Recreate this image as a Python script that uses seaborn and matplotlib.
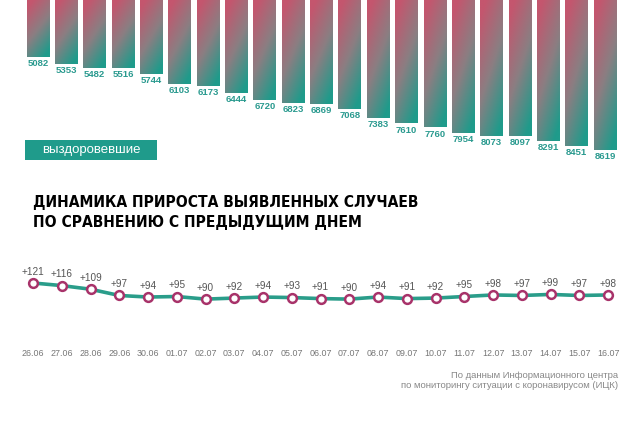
import numpy as np
import pandas as pd
import matplotlib
matplotlib.use("Agg")
import matplotlib.pyplot as plt
import seaborn as sns
from matplotlib.colors import LinearSegmentedColormap
from matplotlib.patches import Rectangle

# Data
dates = ["26.06", "27.06", "28.06", "29.06", "30.06", "01.07", "02.07",
         "03.07", "04.07", "05.07", "06.07", "07.07", "08.07", "09.07",
         "10.07", "11.07", "12.07", "13.07", "14.07", "15.07", "16.07"]
recovered = [5082, 5353, 5482, 5516, 5744, 6103, 6173, 6444, 6720, 6823, 6869,
             7068, 7383, 7610, 7760, 7954, 8073, 8097, 8291, 8451, 8619]
increase = [121, 116, 109, 97, 94, 95, 90, 92, 94, 93, 91,
            90, 94, 91, 92, 95, 98, 97, 99, 97, 98]

TEAL = "#1f9b8b"
PINK = "#c4566e"

sns.set_theme(style="white")
plt.rcParams["font.family"] = ["Liberation Sans", "DejaVu Sans"]

fig = plt.figure(figsize=(6.4, 4.25), dpi=100)

# Bars hanging from the top (the top part is cropped)
ax_bar = fig.add_axes([0, 0.6, 1, 0.4])
df_bar = pd.DataFrame({"date": dates, "recovered": recovered})
sns.barplot(data=df_bar, x="date", y="recovered", ax=ax_bar, width=0.81,
            color="#888888")

top_val = 2915
cmap = LinearSegmentedColormap.from_list("grad", [PINK, "#8b7e82", TEAL])
tv = np.linspace(0, 1, 200)[:, None]
th = np.linspace(0, 1, 30)[None, :]
grad = np.clip(0.8 * tv + 0.4 * th - 0.1, 0, 1)

for p in list(ax_bar.patches):
    x0, w, v = p.get_x(), p.get_width(), p.get_height()
    im = ax_bar.imshow(grad, cmap=cmap, vmin=0, vmax=1, aspect="auto",
                       extent=(x0, x0 + w, v, top_val), origin="upper", zorder=2)
    im.set_clip_path(p)
    p.set_facecolor("none")
    p.set_edgecolor("none")
    ax_bar.annotate(f"{int(v)}", (x0 + w / 2, v), xytext=(0, -1.5),
                    textcoords="offset points", ha="center", va="top",
                    fontsize=6.8, fontweight="bold", color="#2a9a8f")

ax_bar.set_xlim(-1.34, 21.23)
ax_bar.set_ylim(9379, top_val)
ax_bar.axis("off")

# Legend-like box
fig.add_artist(Rectangle((25 / 640, 1 - 160 / 425), 132 / 640, 20 / 425,
                         transform=fig.transFigure, color=TEAL, lw=0))
fig.text(91 / 640, 1 - 150 / 425, "выздоровевшие", ha="center", va="center",
         color="white", fontsize=9.5)

# Title
title_font = dict(family=["DejaVu Sans"], fontstretch="condensed",
                  fontweight="bold", fontsize=11.2, color="black")
fig.text(33 / 640, 1 - 203 / 425, "ДИНАМИКА ПРИРОСТА ВЫЯВЛЕННЫХ СЛУЧАЕВ",
         va="center", ha="left", **title_font)
fig.text(33 / 640, 1 - 222 / 425, "ПО СРАВНЕНИЮ С ПРЕДЫДУЩИМ ДНЕМ",
         va="center", ha="left", **title_font)

# Line chart
ax_line = fig.add_axes([0, 1 - 345 / 425, 1, 90 / 425])
idx = np.arange(len(dates))
sns.lineplot(x=idx, y=increase, ax=ax_line, color="#2a9d8a", lw=2.6,
             marker="o", markersize=6.3, markerfacecolor="white",
             markeredgecolor="#a8336a", markeredgewidth=1.8)
for i, v in enumerate(increase):
    ax_line.annotate(f"+{v}", (i, v), xytext=(0, 8), textcoords="offset points",
                     ha="center", va="center", fontsize=7.2, color="#555555")

ax_line.set_xlim(-1.148, 21.11)
ax_line.set_ylim(1.8, 174.8)
ax_line.set_xticks(idx)
ax_line.set_xticklabels(dates, fontsize=6.4, color="#777777")
ax_line.set_yticks([])
ax_line.tick_params(axis="x", length=0, pad=3)
for s in ax_line.spines.values():
    s.set_visible(False)
ax_line.set_facecolor("none")

# Footer
fig.text(618 / 640, 1 - 375 / 425, "По данным Информационного центра",
         ha="right", va="center", fontsize=6.8, color="#888888")
fig.text(618 / 640, 1 - 386 / 425, "по мониторингу ситуации с коронавирусом (ИЦК)",
         ha="right", va="center", fontsize=6.8, color="#888888")

fig.savefig("out.png", dpi=100)
